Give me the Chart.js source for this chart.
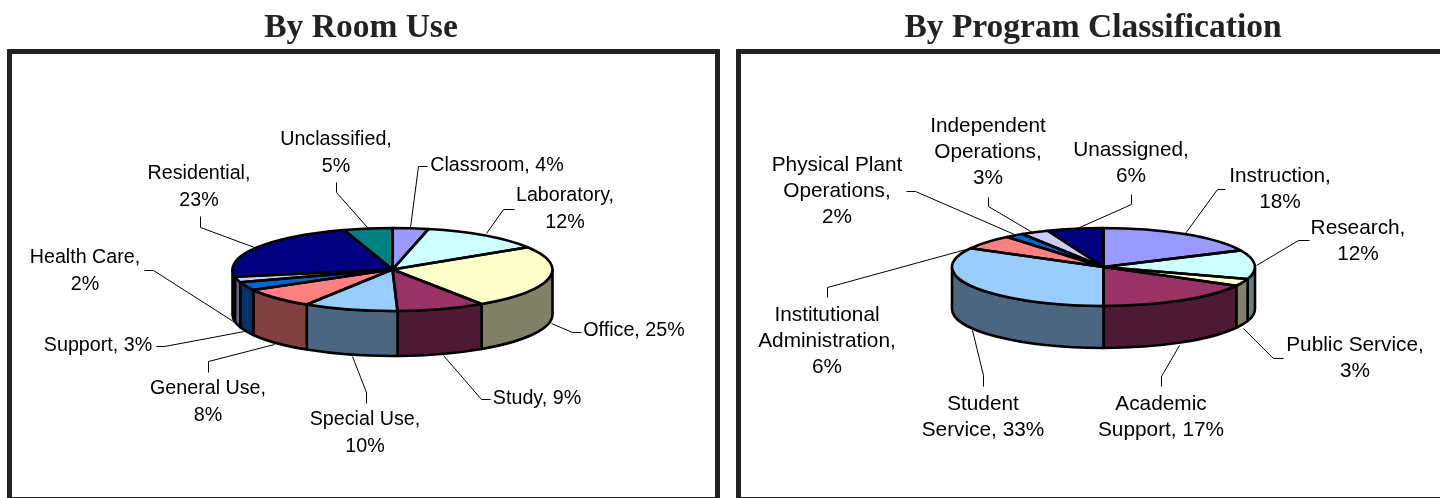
<!DOCTYPE html>
<html>
<head>
<meta charset="utf-8">
<title>Space by room use and program classification</title>
<script src="https://cdn.jsdelivr.net/npm/chart.js@4"></script>
<style>
    html, body { margin: 0; padding: 0; background: #fff; width: 1440px; height: 498px; overflow: hidden; }
    .frame { position: absolute; top: 49px; height: 443px; border: 5px solid #222; border-bottom-width: 1px; background: #fff; }
    #frame1 { left: 7px; width: 703px; }
    #frame2 { left: 736px; width: 720px; }
    canvas { position: absolute; top: 0; }
    #roomUse { left: 0; }
    #program { left: 746px; }
</style>
</head>
<body>
<div class="frame" id="frame1"></div>
<div class="frame" id="frame2"></div>
<canvas id="roomUse" width="722" height="498"></canvas>
<canvas id="program" width="694" height="498"></canvas>
<script>
const roomCategories = ['Classroom', 'Laboratory', 'Office', 'Study', 'Special Use', 'General Use', 'Support', 'Health Care', 'Residential', 'Unclassified'];
const roomValues = [3.6, 12.4, 24.6, 8.9, 9.5, 7.8, 3.2, 2.2, 22.9, 4.9];
const roomColors = ['#9999FF', '#CCFFFF', '#FFFFCC', '#993366', '#99CCFF', '#FF8080', '#0066CC', '#CCCCFF', '#000080', '#008080'];

const programCategories = ['Instruction', 'Research', 'Public Service', 'Academic Support', 'Student Service', 'Institutional Administration', 'Physical Plant Operations', 'Independent Operations', 'Unassigned'];
const programValues = [18, 12, 3, 17, 33, 6, 2, 3, 6];
const programColors = ['#9999FF', '#CCFFFF', '#FFFFCC', '#993366', '#99CCFF', '#FF8080', '#0066CC', '#CCCCFF', '#000080'];

// where each label sits on the page: centre x, first line y, word breaks, leader line
const roomCallouts = [
    { x: 497, y: 166, breaks: [], leader: [[427, 166], [418, 166], [410, 227]] },
    { x: 565, y: 196, breaks: [1], leader: [[514, 209], [503, 209], [486, 233]] },
    { x: 634, y: 331, breaks: [], leader: [[581, 332], [572, 332], [551, 323]] },
    { x: 537, y: 399, breaks: [], leader: [[490, 399], [481, 399], [443, 355]] },
    { x: 365, y: 420, breaks: [2], leader: [[366, 403], [366, 392], [352, 356]] },
    { x: 208, y: 389, breaks: [2], leader: [[208, 372], [208, 361], [274, 344]] },
    { x: 98, y: 346, breaks: [], leader: [[156, 346], [164, 346], [244, 331]] },
    { x: 85, y: 258, breaks: [2], leader: [[144, 270], [153, 270], [236, 323]] },
    { x: 199, y: 174, breaks: [1], leader: [[200, 216], [200, 227], [254, 247]] },
    { x: 336, y: 140, breaks: [1], leader: [[336, 182], [336, 192], [367, 227]] }
];
const programCallouts = [
    { x: 1280, y: 176, breaks: [1], leader: [[1225, 189], [1217, 189], [1185, 233]] },
    { x: 1358, y: 228, breaks: [1], leader: [[1309, 240], [1298, 240], [1256, 265]] },
    { x: 1355, y: 345, breaks: [2], leader: [[1283, 358], [1273, 358], [1243, 328]] },
    { x: 1161, y: 404, breaks: [1], leader: [[1161, 386], [1161, 376], [1179, 345]] },
    { x: 983, y: 404, breaks: [1], leader: [[983, 386], [983, 375], [972, 330]] },
    { x: 827, y: 315, breaks: [1, 2], leader: [[827, 297], [827, 287], [973, 247]] },
    { x: 837, y: 165, breaks: [2, 3], leader: [[906, 191], [915, 191], [1014, 234]] },
    { x: 988, y: 126, breaks: [1, 2], leader: [[988, 197], [988, 206], [1032, 232]] },
    { x: 1131, y: 150, breaks: [1], leader: [[1131, 194], [1131, 204], [1077, 228]] }
];

function halfShade(hex) {
    const n = parseInt(hex.slice(1), 16);
    return 'rgb(' + (n >> 16) / 2 + ',' + ((n >> 8) & 255) / 2 + ',' + (n & 255) / 2 + ')';
}

// the pie is drawn by Chart.js, squashed into an ellipse, with a wall under it
const pie3d = {
    id: 'pie3d',
    beforeDatasetsDraw(chart, args, opts) {
        const ctx = chart.ctx;
        const arcs = chart.getDatasetMeta(0).data;
        const colors = chart.data.datasets[0].backgroundColor;
        const cx = opts.cx - chart.canvas.offsetLeft;
        const rx = arcs[0].outerRadius;
        ctx.save();
        ctx.lineWidth = opts.lineWidth;
        ctx.lineJoin = 'round';
        ctx.strokeStyle = '#000';
        arcs.forEach(function (arc, i) {
            const a0 = Math.max(arc.startAngle, 0);
            const a1 = Math.min(arc.endAngle, Math.PI);
            if (a1 <= a0) return;
            ctx.beginPath();
            ctx.ellipse(cx, opts.cy, rx, opts.ry, 0, a0, a1);
            ctx.ellipse(cx, opts.cy + opts.depth, rx, opts.ry, 0, a1, a0, true);
            ctx.closePath();
            ctx.fillStyle = halfShade(colors[i]);
            ctx.fill();
            ctx.stroke();
        });
        ctx.restore();

        ctx.save();
        ctx.translate(cx - arcs[0].x, opts.cy);
        ctx.scale(1, opts.ry / rx);
        ctx.translate(0, -arcs[0].y);
    },
    afterDatasetsDraw(chart, args, opts) {
        const ctx = chart.ctx;
        ctx.restore();

        const arcs = chart.getDatasetMeta(0).data;
        const left = chart.canvas.offsetLeft;
        const cx = opts.cx - left;
        const rx = arcs[0].outerRadius;
        ctx.save();
        ctx.lineWidth = opts.lineWidth;
        ctx.lineJoin = 'round';
        ctx.strokeStyle = '#000';
        arcs.forEach(function (arc) {
            ctx.beginPath();
            ctx.moveTo(cx, opts.cy);
            ctx.ellipse(cx, opts.cy, rx, opts.ry, 0, arc.startAngle, arc.endAngle);
            ctx.closePath();
            ctx.stroke();
        });

        ctx.lineWidth = 1;
        ctx.font = opts.font;
        ctx.fillStyle = '#000';
        ctx.textAlign = 'center';
        ctx.textBaseline = 'middle';
        opts.callouts.forEach(function (c, i) {
            ctx.beginPath();
            c.leader.forEach(function (p, j) {
                if (j === 0) ctx.moveTo(p[0] - left + 0.5, p[1] + 0.5);
                else ctx.lineTo(p[0] - left + 0.5, p[1] + 0.5);
            });
            ctx.stroke();

            const pct = Math.round(chart.data.datasets[0].data[i]);
            const words = (chart.data.labels[i] + ', ' + pct + '%').split(' ');
            const cuts = [0].concat(c.breaks, [words.length]);
            for (let k = 0; k < cuts.length - 1; k++) {
                ctx.fillText(words.slice(cuts[k], cuts[k + 1]).join(' '), c.x - left, c.y + k * opts.lineHeight);
            }
        });
        ctx.restore();
    }
};

function makePie(id, title, categories, values, colors, callouts, cx, cy, rx, ry, depth, fontSize) {
    return new Chart(document.getElementById(id), {
        type: 'pie',
        data: {
            labels: categories,
            datasets: [{
                data: values,
                backgroundColor: colors,
                borderWidth: 0,
                radius: rx,
                clip: false
            }]
        },
        options: {
            responsive: false,
            animation: false,
            events: [],
            plugins: {
                legend: { display: false },
                tooltip: { enabled: false },
                title: {
                    display: true,
                    text: title,
                    color: '#222',
                    font: { family: '"Liberation Serif", serif', size: 33.5, weight: 'bold' },
                    padding: { top: 8, bottom: 8 }
                },
                pie3d: {
                    cx: cx, cy: cy, ry: ry, depth: depth,
                    callouts: callouts,
                    lineWidth: 2.6,
                    lineHeight: 26.2,
                    font: fontSize + 'px "Liberation Sans", Arial, sans-serif'
                }
            }
        },
        plugins: [pie3d]
    });
}

makePie('roomUse', 'By Room Use', roomCategories, roomValues, roomColors, roomCallouts, 392.5, 269.5, 160, 41.5, 45, 19.7);
makePie('program', 'By Program Classification', programCategories, programValues, programColors, programCallouts, 1103.5, 267, 151.5, 39, 42, 20.8);
</script>
</body>
</html>
